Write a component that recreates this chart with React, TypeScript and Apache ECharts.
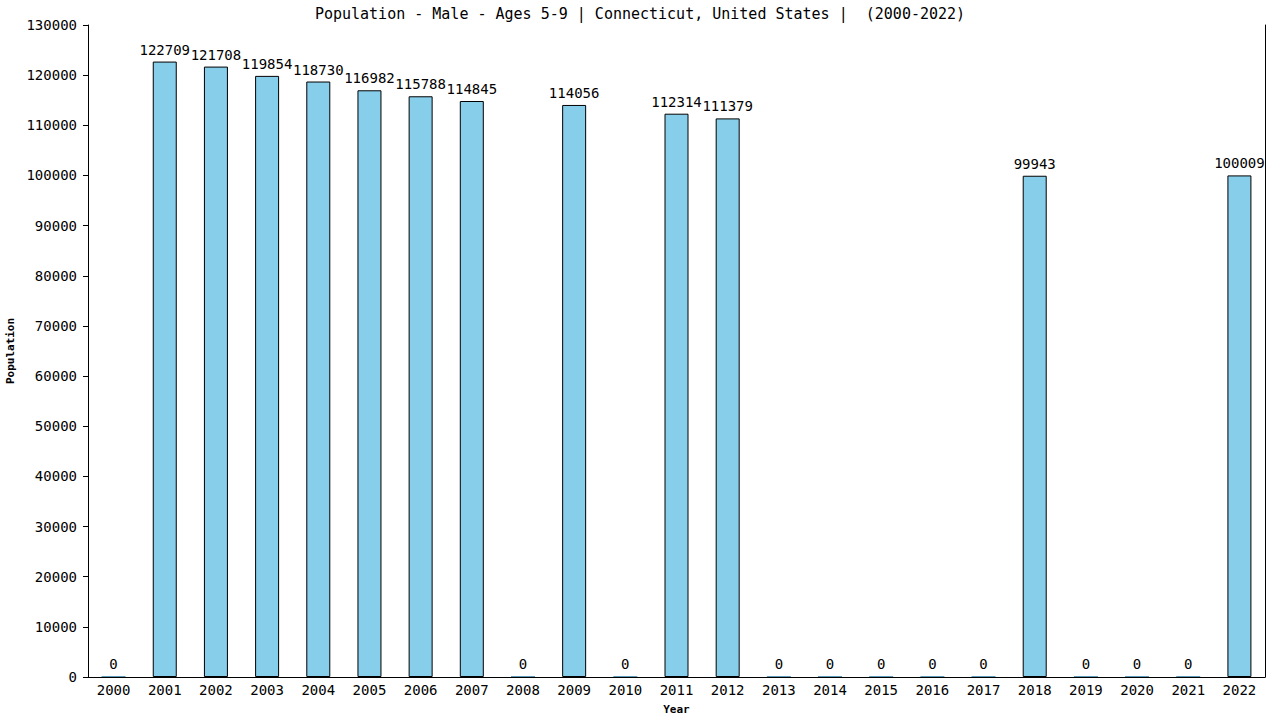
import React, { useEffect, useRef } from 'react';
import * as echarts from 'echarts';

const years = [
  '2000', '2001', '2002', '2003', '2004', '2005', '2006', '2007', '2008', '2009', '2010', '2011',
  '2012', '2013', '2014', '2015', '2016', '2017', '2018', '2019', '2020', '2021', '2022',
];
const population = [
  0, 122709, 121708, 119854, 118730, 116982, 115788, 114845, 0, 114056, 0, 112314,
  111379, 0, 0, 0, 0, 0, 99943, 0, 0, 0, 100009,
];

const FONT = '"DejaVu Sans Mono", monospace';

const App = () => {
  const chartRef = useRef<HTMLDivElement>(null);

  useEffect(() => {
    if (!chartRef.current) return;
    const chart = echarts.init(chartRef.current, null, { renderer: 'svg' });

    const option = {
      animation: false,
      title: {
        text: 'Population - Male - Ages 5-9 | Connecticut, United States |  (2000-2022)',
        left: 'center',
        top: 1,
        textStyle: { fontFamily: FONT, fontSize: 15, fontWeight: 'normal', color: '#000' },
      },
      grid: { left: 88, right: 15, top: 25, bottom: 43, containLabel: false, outerBoundsMode: 'none' },
      xAxis: {
        type: 'category',
        data: years,
        name: 'Year',
        nameLocation: 'middle',
        nameGap: 27,
        nameTextStyle: { fontFamily: FONT, fontSize: 11, fontWeight: 'bold', color: '#000' },
        axisLine: { show: true, lineStyle: { color: '#000', width: 1 } },
        axisTick: { show: false },
        axisLabel: { interval: 0, margin: 6, fontFamily: FONT, fontSize: 14, color: '#000' },
      },
      yAxis: [
        {
          type: 'value',
          min: 0,
          max: 130000,
          interval: 10000,
          name: 'Population',
          nameLocation: 'middle',
          nameGap: 70,
          nameTextStyle: { fontFamily: FONT, fontSize: 11, fontWeight: 'bold', color: '#000' },
          axisLine: { show: true, lineStyle: { color: '#000', width: 1 } },
          axisTick: { show: true, length: 5, lineStyle: { color: '#000' } },
          axisLabel: {
            margin: 11,
            fontFamily: FONT,
            fontSize: 14,
            color: '#000',
            formatter: (v: number) => String(v),
          },
          splitLine: { show: false },
        },
        {
          type: 'value',
          position: 'right',
          min: 0,
          max: 130000,
          interval: 10000,
          axisLine: { show: true, lineStyle: { color: '#000', width: 1 } },
          axisTick: { show: false },
          axisLabel: { show: false },
          splitLine: { show: false },
        },
      ],
      series: [
        {
          type: 'bar',
          barWidth: 24,
          barMinHeight: 1,
          data: population.map((v) =>
            v === 0
              ? { value: v, itemStyle: { color: '#5b9ab8', borderWidth: 0 } }
              : { value: v }
          ),
          itemStyle: { color: '#87CEEB', borderColor: '#000', borderWidth: 1 },
          label: {
            show: true,
            position: 'top',
            distance: 5,
            fontFamily: FONT,
            fontSize: 14,
            color: '#000',
          },
        },
      ],
    };

    chart.setOption(option);
    const handleResize = () => chart.resize();
    window.addEventListener('resize', handleResize);
    return () => {
      window.removeEventListener('resize', handleResize);
      chart.dispose();
    };
  }, []);

  return (
    <div style={{ position: 'fixed', left: 0, top: 0, width: 1280, height: 720, background: '#fff' }}>
      <div ref={chartRef} style={{ width: 1280, height: 720 }} />
    </div>
  );
};

export default App;
